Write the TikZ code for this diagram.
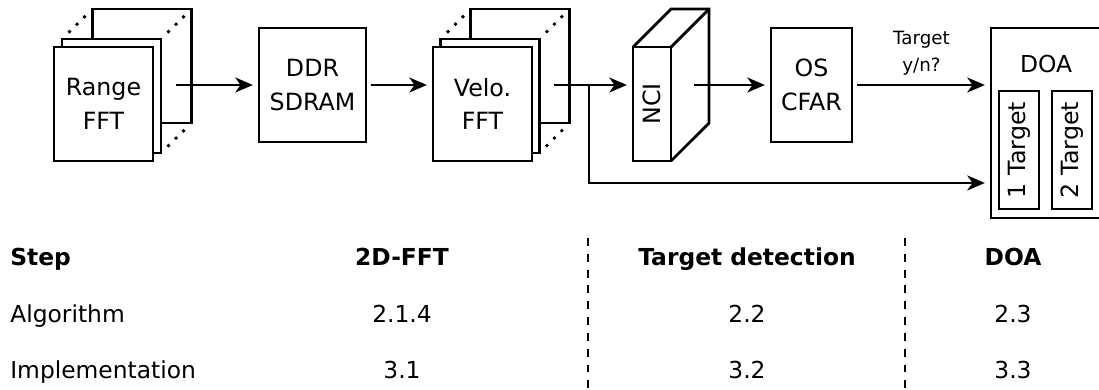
\documentclass[tikz,border=0pt]{standalone}
\usepackage{fontspec}
\setmainfont{DejaVu Sans}
\usepackage{graphicx}
\usetikzlibrary{
  arrows.meta,
  calc
}

\begin{document}
\begin{tikzpicture}[
    x=0.02cm, y=-0.02cm,
    page/.style={
      rectangle,
      draw=black,
      fill=white,
      line width=1.6pt,
      minimum width=1.98cm,
      minimum height=2.28cm,
      inner sep=0pt,
      outer sep=0pt,
      align=center,
      font=\fontsize{13.5}{19.3}\selectfont
    },
    unit/.style={page, minimum width=2.14cm},
    small unit/.style={page, minimum width=1.62cm},
    face/.style={page, minimum width=0.76cm},
    slot/.style={page, minimum width=0.8cm, minimum height=2.36cm},
    frame/.style={page, minimum width=2.22cm, minimum height=3.8cm},
    edge/.style={line width=1.6pt, line join=miter},
    dots/.style={
      line width=1.6pt,
      dash pattern=on 1.6pt off 4.4pt,
      shorten <=5.2pt,
      shorten >=5.2pt
    },
    flow/.style={
      -{Stealth[length=10pt,width=8.5pt,inset=3pt]},
      line width=1.6pt,
      shorten >=3.5pt
    },
    tag/.style={font=\fontsize{10.4}{15.3}\selectfont, align=center, inner sep=0pt},
    plain/.style={font=\fontsize{13.3}{16}\selectfont, inner sep=0pt},
    head/.style={font=\fontsize{13.3}{16}\selectfont\bfseries, inner sep=0pt},
    sep/.style={line width=1.1pt, dash pattern=on 4.5pt off 4.5pt}
  ]
    \useasboundingbox (0,0) rectangle (1099,389);

    % range FFT stack
    \node[page] (rback) at (142,66)   {};
    \node[page] (rmid)  at (111.5,96) {};
    \node[page] (rfront) at (103.5,104) {Range\\FFT};
    \draw[dots] (rmid.north west) -- (rback.north west);
    \draw[dots] (rmid.north east) -- (rback.north east);
    \draw[dots] (rmid.south east) -- (rback.south east);

    % memory
    \node[unit] (ddr) at (312.5,85) {DDR\\SDRAM};

    % velocity FFT stack
    \node[page] (vback) at (520,66)   {};
    \node[page] (vmid)  at (490,96)   {};
    \node[page] (vfront) at (482.5,104) {Velo.\\FFT};
    \draw[dots] (vmid.north west) -- (vback.north west);
    \draw[dots] (vmid.north east) -- (vback.north east);
    \draw[dots] (vmid.south east) -- (vback.south east);

    % NCI block
    \node[face] (nci) at (652,104) {\rotatebox{90}{NCI}};
    \draw[edge] (nci.north west) -- ++(38,-38) -- ++(38,0) -- ++(0,114) -- (nci.south east);
    \draw[edge] (nci.north east) -- ++(38,-38);

    % detector
    \node[small unit] (os) at (811.5,85) {OS\\CFAR};

    % DOA
    \node[frame, anchor=north west] (doa) at (991,28) {};
    \node[plain] (doatitle) at (1046,64) {DOA};
    \node[slot] (tone) at (1019,150) {\rotatebox{90}{1 Target}};
    \node[slot] (ttwo) at (1072,150) {\rotatebox{90}{2 Target}};

    % signal flow
    \coordinate (rout) at (176,85);
    \coordinate (vout) at (554,85);
    \coordinate (nout) at (694,85);
    \coordinate (split) at (589,85);
    \draw[flow] (rout) -- (ddr.west);
    \draw[flow, shorten <=2.8pt] (ddr.east) -- (vfront.west |- ddr.east);
    \draw[flow] (vout) -- (nci.west |- vout);
    \draw[flow] (nout) -- (os.west);
    \draw[flow, shorten <=2.8pt] (os.east) -- (doa.west |- os.east)
      node[tag, midway, yshift=0.64cm] (tyn) {Target\\y/n?};
    \draw[flow] (split) |- ([yshift=-1.2cm]doa.west);

    % table
    \node[head, anchor=base west] (hstep) at (10,265)  {Step};
    \node[head, anchor=base] (hfft) at (402,265)  {2D-FFT};
    \node[head, anchor=base] (hdet) at (747,265)  {Target detection};
    \node[head, anchor=base] (hdoa) at (1013,265) {DOA};
    \node[plain, anchor=base west] (ralg) at (10,322) {Algorithm};
    \node[plain, anchor=base] (afft) at (402,322)  {2.1.4};
    \node[plain, anchor=base] (adet) at (747,322)  {2.2};
    \node[plain, anchor=base] (adoa) at (1013,322) {2.3};
    \node[plain, anchor=base west] (rimp) at (10,378) {Implementation};
    \node[plain, anchor=base] (ifft) at (402,378)  {3.1};
    \node[plain, anchor=base] (idet) at (747,378)  {3.2};
    \node[plain, anchor=base] (idoa) at (1013,378) {3.3};
    \draw[sep] (588,238) -- (588,389);
    \draw[sep] (905,238) -- (905,389);
  \end{tikzpicture}
\end{document}
